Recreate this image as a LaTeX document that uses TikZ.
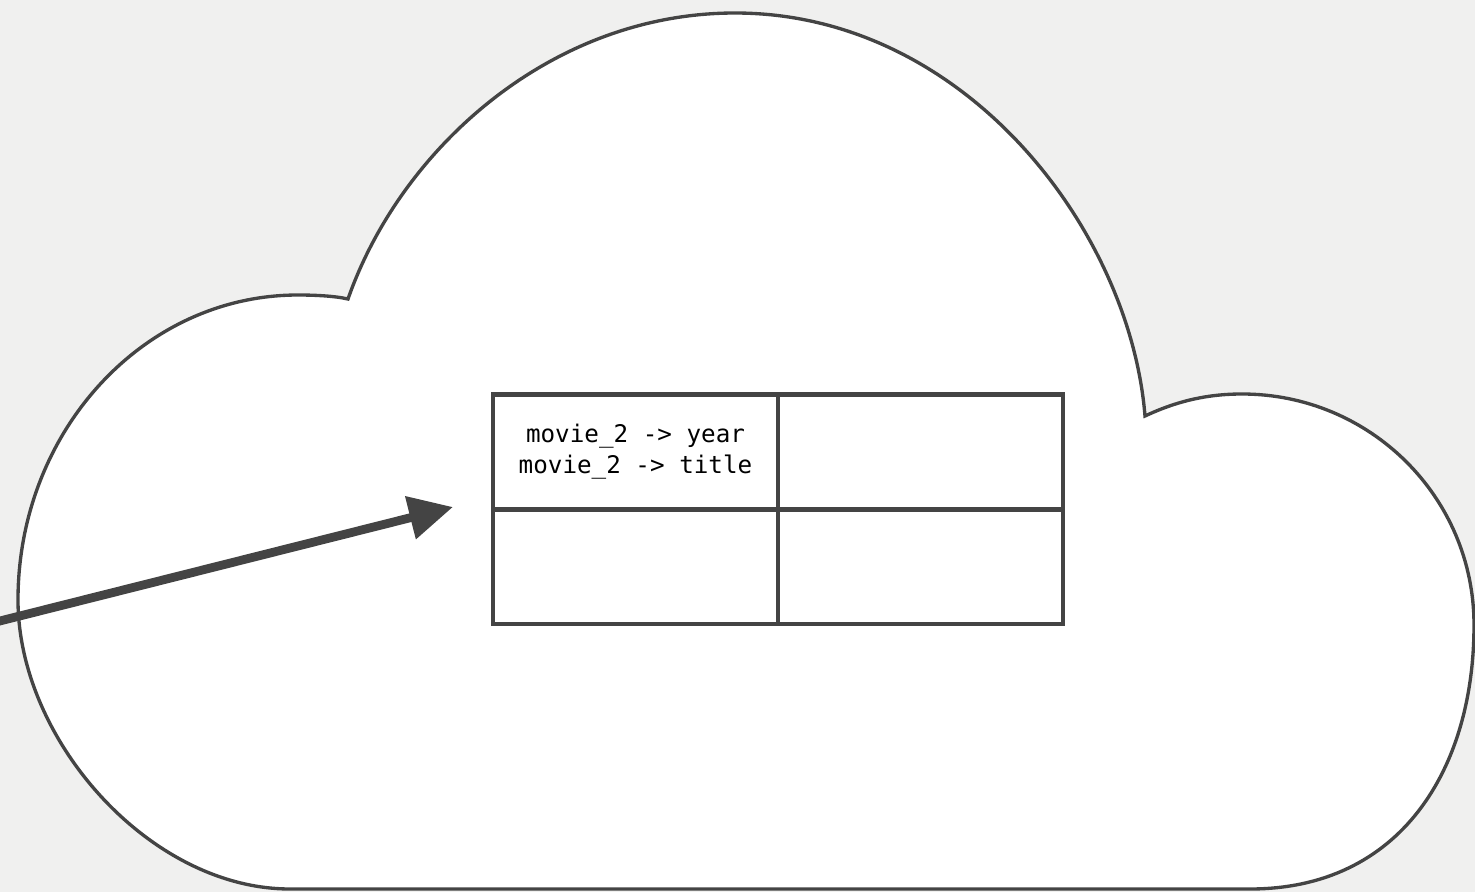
\documentclass[tikz,border=0pt]{standalone}
\usepackage{fontspec}
\setmonofont{DejaVu Sans Mono}
\usepackage{tikz}
\usetikzlibrary{arrows.meta, positioning}
\usepackage{xcolor}
\definecolor{bgGray}{HTML}{F0F0EF}
\definecolor{edgeGray}{HTML}{444444}
\tikzset{
  cell/.style={draw=edgeGray, line width=2.3pt, fill=white,
    minimum width=5.7cm, minimum height=2.3cm,
    inner sep=0pt, outer sep=0pt, align=center,
    font=\ttfamily\fontsize{13.8}{17.8}\selectfont},
}

\begin{document}
\begin{tikzpicture}[x=0.02cm, y=-0.02cm]
      \fill[bgGray] (0,0) rectangle (1475,892);
      \useasboundingbox (0,0) rectangle (1475,892);
      % cloud
      \draw[edgeGray, fill=white, line width=1.9pt]
        (348,299) .. controls (335,296) and (315,295) .. (298,295)
        .. controls (143,295) and (18,432) .. (18,600)
        .. controls (18,740) and (150,889) .. (290,889)
        -- (1250,889)
        .. controls (1400,889) and (1474,770) .. (1474,625)
        .. controls (1474,497) and (1370,394) .. (1242,394)
        .. controls (1205,394) and (1175,402) .. (1145,416)
        .. controls (1130,230) and (965,13) .. (735,13)
        .. controls (550,13) and (400,150) .. (348,299) -- cycle;
      \node[cell] (keyCell) at (635.5,452)
        {movie\_2 -> year\\movie\_2 -> title};
      \node[cell, right=0pt of keyCell] (topRight) {};
      \node[cell, below=0pt of keyCell] (bottomLeft) {};
      \node[cell, right=0pt of bottomLeft] (bottomRight) {};
      \coordinate (src) at (-20,626);
      \coordinate (tip) at (453,507);
      \draw[edgeGray, line width=5pt, -{Triangle[length=25pt, width=24pt]}]
        (src) -- (tip);
    \end{tikzpicture}
\end{document}
